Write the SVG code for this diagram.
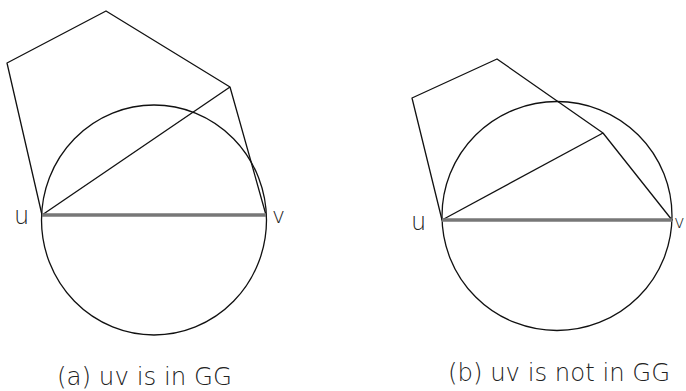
<svg xmlns="http://www.w3.org/2000/svg" width="686" height="391" viewBox="0 0 686 391">
<style>
.ln{fill:none;stroke:#111;stroke-width:1.3;stroke-linejoin:round}
.uv{stroke:#777;stroke-width:3.5}
.lb{font-family:"DejaVu Sans","Liberation Sans",sans-serif;font-weight:200;fill:#222}
</style>
<rect width="686" height="391" fill="#fff"/>
<g id="panel-a">
<ellipse class="ln" cx="154" cy="220" rx="112.5" ry="115"/>
<polygon class="ln" points="42,215 7,63 106,11 230,87 266,215"/>
<line class="ln" x1="42" y1="215" x2="230" y2="87"/>
<line class="uv" x1="42" y1="215" x2="266" y2="215"/>
<text class="lb" x="14" y="224" font-size="24">u</text>
<text class="lb" x="272" y="223" font-size="22">v</text>
<text class="lb" x="57" y="385" font-size="24" textLength="175" lengthAdjust="spacingAndGlyphs">(a) uv is in GG</text>
</g>
<g id="panel-b">
<ellipse class="ln" cx="557" cy="216" rx="115" ry="114.5"/>
<polygon class="ln" points="442,220 412,98 497,59 603,133 672,220"/>
<line class="ln" x1="442" y1="220" x2="603" y2="133"/>
<line class="uv" x1="442" y1="220" x2="672" y2="220"/>
<text class="lb" x="411" y="230" font-size="24">u</text>
<text class="lb" x="674" y="228" font-size="18">v</text>
<text class="lb" x="448" y="381" font-size="24" textLength="222" lengthAdjust="spacingAndGlyphs">(b) uv is not in GG</text>
</g>
</svg>
